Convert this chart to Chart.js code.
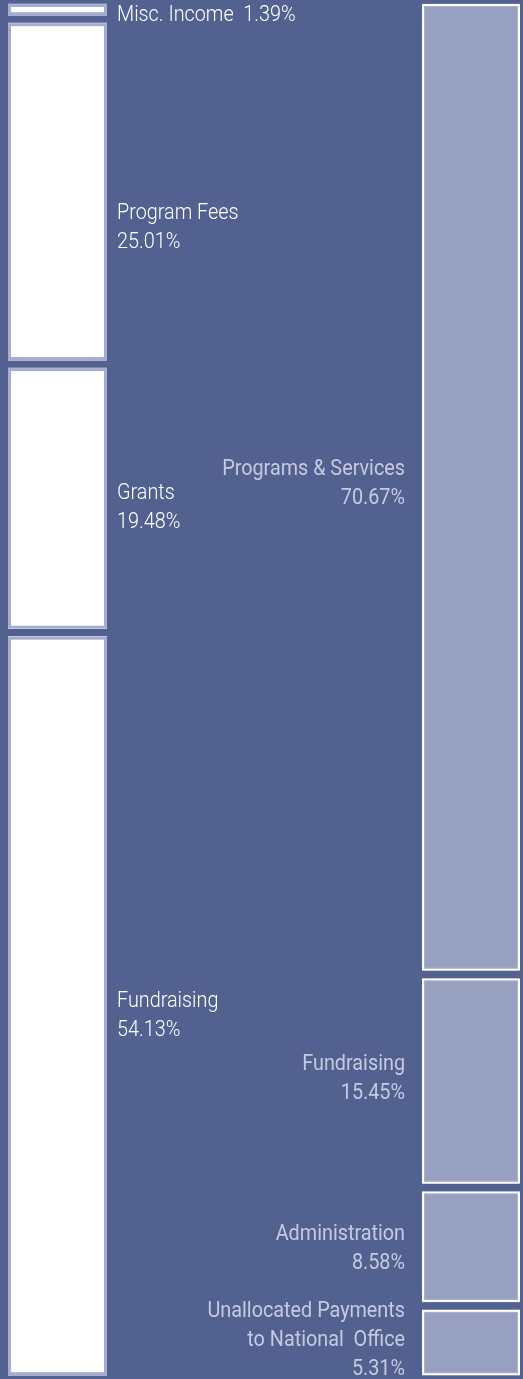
<!DOCTYPE html>
<html><head><meta charset="utf-8">
<script src="https://cdn.jsdelivr.net/npm/chart.js@4.4.1/dist/chart.umd.min.js"></script>
<style>html,body{margin:0;padding:0;background:#536191;overflow:hidden}</style>
</head><body>
<canvas id="c" width="523" height="1379"></canvas>
<script>
// ---- data ----
const columns = ['Income', 'Expenses'];
const incomeLabels = ['Misc. Income', 'Program Fees', 'Grants', 'Fundraising'];
const incomeValues = [1.39, 25.01, 19.48, 54.13];
const expenseLabels = ['Programs & Services', 'Fundraising', 'Administration', 'Unallocated Payments\nto National  Office'];
const expenseValues = [70.67, 15.45, 8.58, 5.31];
const percentTicks = [0, 100];

// ---- styles ----
const BG = '#536191';
const FONT = 'Roboto, "DejaVu Sans Condensed", sans-serif';
const TEXT_SCALE_X = 0.9;
const labelNudgeIncome = [6, 36, 10, 10];
const labelNudgeExpense = [-3, -2, 2, -2];

const datasets = [];
incomeValues.forEach((v, i) => datasets.push({
  label: incomeLabels[i], data: [v, null], col: 0, idx: i,
  backgroundColor: '#ffffff', borderColor: BG,
  borderWidth: {top: 4, bottom: 4, left: 0, right: 0}, borderSkipped: false,
  barThickness: 99, stack: 's', clip: false
}));
expenseValues.forEach((v, i) => datasets.push({
  label: expenseLabels[i], data: [null, v], col: 1, idx: i,
  backgroundColor: '#97a0c0', borderColor: BG,
  borderWidth: {top: 4, bottom: 4, left: 0, right: 0}, borderSkipped: false,
  barThickness: 98, stack: 's', clip: false
}));

const decor = {
  id: 'decor',
  afterDatasetsDraw(chart) {
    const ctx = chart.ctx;
    ctx.save();
    chart.data.datasets.forEach((ds, di) => {
      const meta = chart.getDatasetMeta(di);
      const el = meta.data[ds.col];
      if (!el || ds.data[ds.col] == null) return;
      const p = el.getProps(['x', 'y', 'base', 'width'], true);
      const top = Math.min(p.y, p.base) + 4, bot = Math.max(p.y, p.base) - 4;
      const left = p.x - p.width / 2, right = p.x + p.width / 2;
      const w = right - left, h = bot - top;
      if (ds.col === 0) {
        ctx.strokeStyle = '#a6add0'; ctx.lineWidth = 3;
        ctx.strokeRect(left + 1.5, top + 1.5, w - 3, h - 3);
      } else {
        ctx.strokeStyle = '#ffffff'; ctx.lineWidth = 2;
        ctx.strokeRect(left + 1, top + 1, w - 2, h - 2);
        ctx.strokeStyle = '#aab1cd'; ctx.lineWidth = 1;
        ctx.strokeRect(left + 2.5, top + 2.5, w - 5, h - 5);
      }
      // labels
      const val = ds.data[ds.col].toFixed(2) + '%';
      const cy = (top + bot) / 2;
      let lines;
      if (ds.col === 0) {
        lines = (h < 40) ? [ds.label + '  ' + val] : [ds.label, val];
        ctx.fillStyle = '#ffffff';
        ctx.textAlign = 'left';
        ctx.font = '300 22px ' + FONT;
      } else {
        lines = ds.label.split('\n').concat([val]);
        ctx.fillStyle = '#c6cae0';
        ctx.textAlign = 'right';
        ctx.font = '400 22px ' + FONT;
      }
      ctx.textBaseline = 'middle';
      const nudge = ds.col === 0 ? labelNudgeIncome[ds.idx] : labelNudgeExpense[ds.idx];
      const lh = 29;
      const y0 = cy + nudge - (lines.length - 1) * lh / 2;
      const tx = ds.col === 0 ? right + 10 : left - 17;
      lines.forEach((t, k) => {
        ctx.save();
        ctx.translate(tx, y0 + k * lh);
        ctx.scale(TEXT_SCALE_X, 1);
        ctx.fillText(t, 0, 0);
        ctx.restore();
      });
    });
    ctx.restore();
  }
};

new Chart(document.getElementById('c'), {
  type: 'bar',
  data: { labels: columns, datasets },
  options: {
    responsive: false, animation: false, devicePixelRatio: 1,
    layout: { padding: { left: 57.5, right: 52, top: 0, bottom: -3 } },
    scales: {
      x: { type: 'category', offset: false, display: false, stacked: true },
      y: { min: percentTicks[0], max: percentTicks[1], reverse: true, display: false, stacked: true }
    },
    plugins: { legend: { display: false }, tooltip: { enabled: false } }
  },
  plugins: [decor]
});
</script>
</body></html>
